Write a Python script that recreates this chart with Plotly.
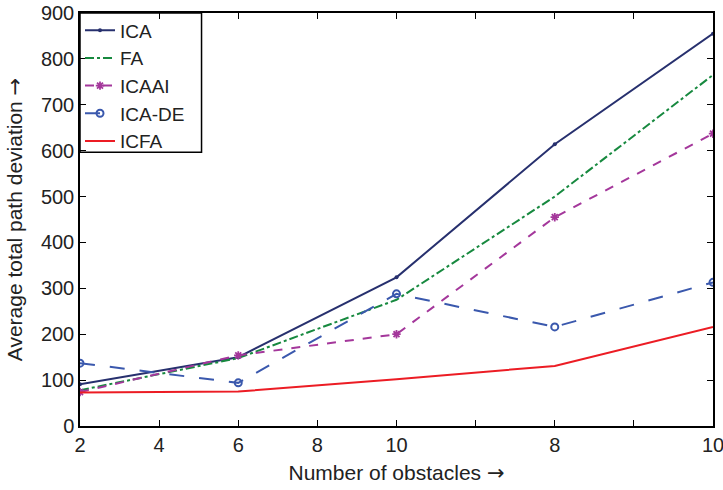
import plotly.graph_objects as go

# Obstacle scenarios (positions on the shared x axis)
x_pos = [2, 6, 10, 14, 18]
tick_vals = [2, 4, 6, 8, 10, 12, 14, 16, 18]
tick_text = ["2", "4", "6", "8", "10", "", "8", "", "10"]

ica = [91, 150, 324, 614, 855]
fa = [78, 148, 275, 500, 765]
icaai = [74, 154, 200, 455, 637]
ica_de = [137, 94, 288, 216, 313]
icfa = [73, 75, 102, 131, 216]

series = [
    ("ICA", ica, "#27306e", "solid", dict(symbol="circle", size=4)),
    ("FA", fa, "#17893f", "dashdot", None),
    ("ICAAI", icaai, "#a4379b", "dash", dict(symbol="asterisk", size=7, line=dict(width=1.8, color="#a4379b"))),
    ("ICA-DE", ica_de, "#3a58ad", "longdash", dict(symbol="circle-open", size=7, line=dict(width=2))),
    ("ICFA", icfa, "#ec1c24", "solid", None),
]

fig = go.Figure()
for name, vals, color, dash, marker in series:
    fig.add_trace(go.Scatter(
        x=x_pos, y=vals, name=name,
        mode="lines+markers" if marker else "lines",
        line=dict(color=color, width=2, dash=dash),
        marker=dict(color=color, **marker) if marker else None,
    ))

axis_common = dict(
    showline=True, linecolor="black", linewidth=1.5, mirror="ticks",
    ticks="inside", ticklen=6, tickcolor="black", showgrid=False, zeroline=False,
    tickfont=dict(size=20, color="#222"), ticklabeloverflow="allow",
)

ARROW = '<span style="font-family:DejaVu Sans">\u2192</span>'

# Legend frame flush with the top-left corner of the plot area
LEGEND_BOX = dict(x1=0.192, y0=0.663)

fig.update_layout(
    width=723, height=490,
    paper_bgcolor="white", plot_bgcolor="white",
    margin=dict(l=80, r=10, t=13, b=64, autoexpand=False),
    font=dict(family="Liberation Sans, Arial, sans-serif", color="#222"),
    xaxis=dict(range=[2, 18], tickvals=tick_vals, ticktext=tick_text,
               title=dict(text="Number of obstacles " + ARROW, font=dict(size=21), standoff=11),
               **axis_common),
    yaxis=dict(range=[0, 900], dtick=100,
               title=dict(text="Average total path deviation " + ARROW, font=dict(size=21), standoff=13),
               **axis_common),
    legend=dict(x=0, y=1.004, xanchor="left", yanchor="top",
                borderwidth=0, bgcolor="rgba(0,0,0,0)",
                font=dict(size=19, color="#222"), tracegroupgap=0,
                itemwidth=30),
    shapes=[dict(type="rect", xref="paper", yref="paper",
                 x0=0, x1=LEGEND_BOX["x1"], y0=LEGEND_BOX["y0"], y1=1,
                 line=dict(color="black", width=1.5), layer="above")],
)

fig.write_html("out.html")
